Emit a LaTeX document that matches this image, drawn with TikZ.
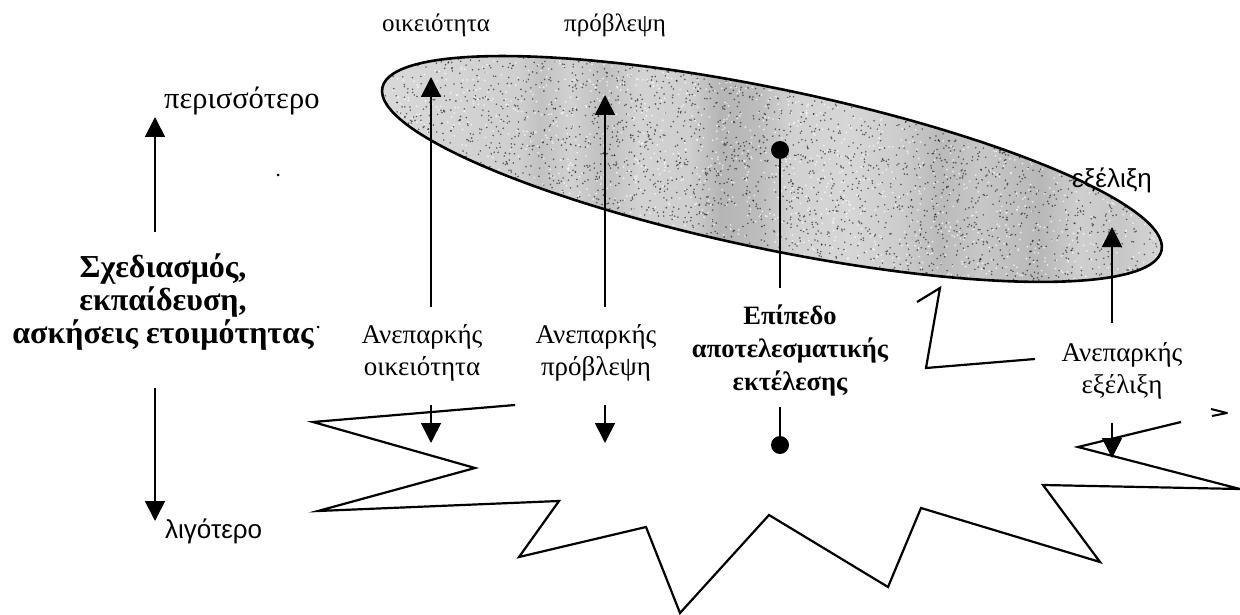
\documentclass[tikz,border=0pt]{standalone}
\usepackage{fontspec}
\setmainfont{Liberation Serif}
\newfontfamily\sansgr{Liberation Sans}
\usetikzlibrary{arrows.meta}
\pgfdeclarehorizontalshading{bandshade}{100bp}{color(0bp)=(gray!30); color(25bp)=(gray!30); color(29.4bp)=(gray!34); color(33.8bp)=(gray!38); color(35.1bp)=(gray!48); color(37.1bp)=(gray!36); color(39.2bp)=(gray!50); color(41.5bp)=(gray!35); color(44.7bp)=(gray!38); color(46.7bp)=(gray!58); color(49.2bp)=(gray!52); color(51.2bp)=(gray!36); color(55bp)=(gray!32); color(58.2bp)=(gray!40); color(60.8bp)=(gray!54); color(63.3bp)=(gray!44); color(67.2bp)=(gray!56); color(69.7bp)=(gray!38); color(72.3bp)=(gray!44); color(75bp)=(gray!32); color(100bp)=(gray!32)}
\tikzset{
  shaft/.style={line width=1.7pt},
  uparrow/.style={shaft,-{Triangle[width=20pt,length=20pt]}},
  dotend/.style={circle,fill=black,inner sep=0pt,minimum size=18pt},
  zig/.style={line width=2.2pt,line join=miter},
  lbl/.style={inner sep=0pt,font=\fontsize{27}{32}\selectfont,align=center},
  toplbl/.style={inner sep=0pt,font=\fontsize{25}{30}\selectfont},
  morelbl/.style={inner sep=0pt,font=\fontsize{30.5}{34}\selectfont},
  boldlbl/.style={inner sep=0pt,font=\fontsize{26.5}{33}\selectfont\bfseries,align=center},
  ttlstyle/.style={inner sep=0pt,font=\fontsize{32}{33}\selectfont\bfseries,align=center},
  sanslbl/.style={inner sep=0pt,font=\fontsize{26}{30}\sansgr},
  speck/.style={circle,fill=black,inner sep=0pt,minimum size=3pt}
}
\begin{document}
\begin{tikzpicture}[x=1pt,y=-1pt]
\useasboundingbox (0,0) rectangle (1240,615);
% ellipse
\coordinate (ec) at (772,169);
\begin{scope}
  \clip[rotate around={-11.8:(ec)}] (ec) ellipse [x radius=398, y radius=80];
  \shade[shading=bandshade] (382,40) rectangle (1162,300);
  \pgfmathsetseed{7}
  \foreach \i in {1,...,3800} {
    \pgfmathsetmacro\rx{382+780*rnd}
    \pgfmathsetmacro\ry{50+240*rnd}
    \fill[black,opacity=0.55] (\rx,\ry) circle (0.9);
  }
  \foreach \i in {1,...,2000} {
    \pgfmathsetmacro\rx{382+780*rnd}
    \pgfmathsetmacro\ry{50+240*rnd}
    \fill[white,opacity=0.7] (\rx,\ry) circle (1.0);
  }
\end{scope}
\draw[line width=2.6pt,rotate around={-11.8:(ec)}] (ec) ellipse [x radius=398, y radius=80];

% left scale
\node[ttlstyle,anchor=base] (ttl) at (163,343) {Σχεδιασμός,\\εκπαίδευση,\\ασκήσεις ετοιμότητας};
\coordinate (lupS) at (155,232);
\coordinate (lupE) at (155,117);
\coordinate (ldnS) at (155,388);
\coordinate (ldnE) at (155,521);
\draw[uparrow] (lupS) -- (lupE);
\draw[uparrow] (ldnS) -- (ldnE);
\node[morelbl,anchor=base west] (more) at (164,109) {περισσότερο};
\node[sanslbl,anchor=base west] (less) at (165,538) {λιγότερο};

% top labels
\node[toplbl,anchor=base] (tOik) at (436,32) {οικειότητα};
\node[toplbl,anchor=base] (tPro) at (615,32) {πρόβλεψη};
\node[sanslbl,anchor=base] (tExe) at (1112,187) {εξέλιξη};

% lower labels (anchor base = last line)
\node[lbl,anchor=base] (lOik) at (422,375) {Ανεπαρκής\\οικειότητα};
\node[lbl,anchor=base] (lPro) at (596,375) {Ανεπαρκής\\πρόβλεψη};
\node[boldlbl,anchor=base] (lEpi) at (790,390) {Επίπεδο\\αποτελεσματικής\\εκτέλεσης};
\node[lbl,anchor=base] (lExe) at (1122,393) {Ανεπαρκής\\εξέλιξη};

% long arrows into ellipse
\coordinate (a1s) at (431,307); \coordinate (a1e) at (431,77);
\coordinate (a2s) at (605,307); \coordinate (a2e) at (605,95);
\coordinate (a3s) at (780,288); \node[dotend] (a3e) at (780,150) {};
\coordinate (a4s) at (1112,323); \coordinate (a4e) at (1112,227);
\draw[uparrow] (a1s) -- (a1e);
\draw[uparrow] (a2s) -- (a2e);
\draw[shaft] (a3s) -- (a3e.center);
\draw[uparrow] (a4s) -- (a4e);

% short arrows below labels
\coordinate (b1s) at (431,405); \coordinate (b1e) at (431,443);
\coordinate (b2s) at (605,405); \coordinate (b2e) at (605,443);
\coordinate (b3s) at (780,407); \node[dotend] (b3e) at (780,445) {};
\coordinate (b4s) at (1112,423); \coordinate (b4e) at (1112,458);
\draw[uparrow] (b1s) -- (b1e);
\draw[uparrow] (b2s) -- (b2e);
\draw[shaft] (b3s) -- (b3e.center);
\draw[uparrow] (b4s) -- (b4e);

% zigzag outline
\draw[zig] (515,405) -- (313,422) -- (475,468) -- (318,511) -- (559,501) -- (519,557) -- (646,527) -- (680,613) -- (769,515) -- (888,587) -- (921,508) -- (1100,562) -- (1043,485) -- (1240,489) -- (1078,447) -- (1181,422);
\draw[zig] (917,302) -- (940,288) -- (926,368) -- (1035,359);
\draw[line width=2pt,line join=round] (1211,409) -- (1227,413) -- (1212,416);

% specks
\node[speck] (s1) at (318,327) {};
\node[speck] (s2) at (278,175) {};
\end{tikzpicture}
\end{document}
